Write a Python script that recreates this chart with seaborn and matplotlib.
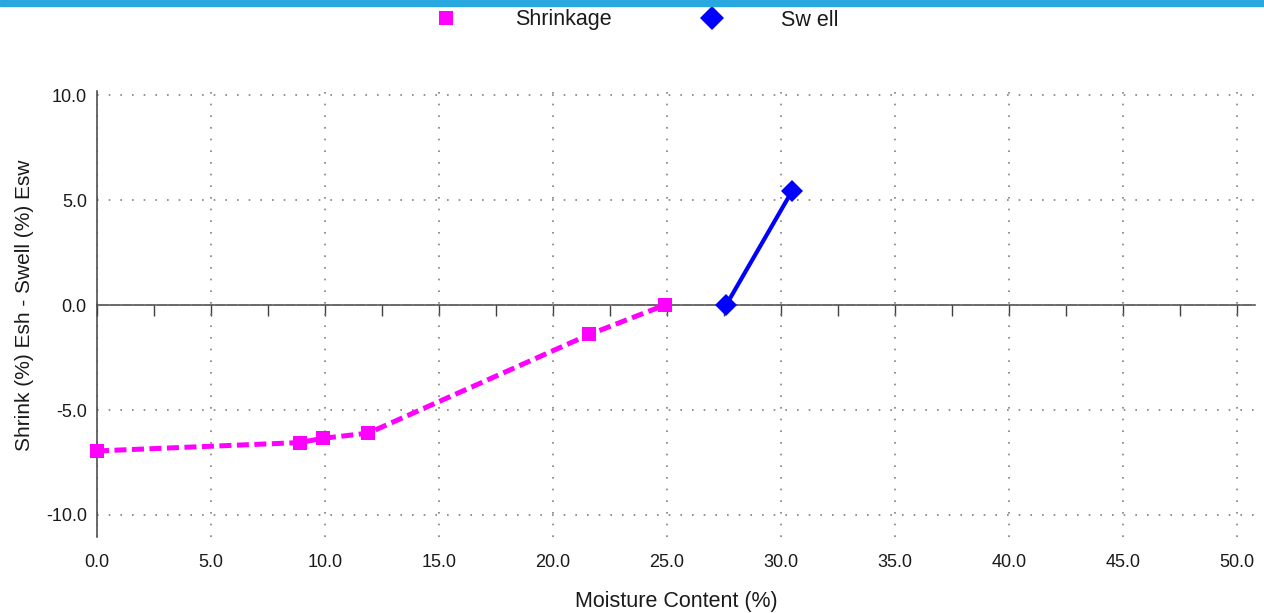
import numpy as np
import pandas as pd
import matplotlib.pyplot as plt
import seaborn as sns
from matplotlib.lines import Line2D
from matplotlib.patches import Rectangle

# === DATA ===
shrink_mc = [0.0, 8.9, 9.9, 11.9, 21.6, 24.9]
shrink_val = [-6.95, -6.55, -6.35, -6.1, -1.4, 0.0]
swell_mc = [27.6, 30.5]
swell_val = [0.0, 5.45]
series_names = ["Shrinkage", "Sw ell"]
x_ticks = [0.0, 5.0, 10.0, 15.0, 20.0, 25.0, 30.0, 35.0, 40.0, 45.0, 50.0]
y_ticks = [-10.0, -5.0, 0.0, 5.0, 10.0]

df = pd.concat([
    pd.DataFrame({"mc": shrink_mc, "val": shrink_val, "series": series_names[0]}),
    pd.DataFrame({"mc": swell_mc, "val": swell_val, "series": series_names[1]}),
], ignore_index=True)

palette = {"Shrinkage": "#ff00ff", "Sw ell": "#0000ff"}
marker_map = {"Shrinkage": "s", "Sw ell": "D"}
marker_size = {"Shrinkage": 10, "Sw ell": 11.5}

# === STYLE ===
sns.set_style("white")
plt.rcParams["font.family"] = ["Liberation Sans", "DejaVu Sans"]
txt_color = "#1a1a1a"
axis_color = "#404040"

fig = plt.figure(figsize=(12.64, 6.13), dpi=100)
ax = fig.add_axes([97 / 1264, 1 - 537 / 613, (1255 - 97) / 1264, (537 - 91) / 613])

xlo, xhi = 0.0, 50.8
ylo, yhi = -11.05, 10.2

# shrinkage: dashed magenta with squares
sub = df[df["series"] == "Shrinkage"]
sns.lineplot(data=sub, x="mc", y="val", ax=ax, color=palette["Shrinkage"],
             linewidth=3.6, marker="s", markersize=marker_size["Shrinkage"], markeredgewidth=0,
             legend=False, clip_on=False, zorder=5, sort=False)
ax.lines[-1].set_dashes((2.4, 1.1))

# swell: solid blue with diamonds
sub = df[df["series"] == "Sw ell"]
sns.lineplot(data=sub, x="mc", y="val", ax=ax, color=palette["Sw ell"],
             linewidth=3, marker="D", markersize=marker_size["Sw ell"], markeredgewidth=0,
             legend=False, clip_on=False, zorder=5, sort=False)

ax.set_xlim(xlo, xhi)
ax.set_ylim(ylo, yhi)

# grid
ax.set_xticks(x_ticks)
ax.set_yticks(y_ticks)
ax.set_xticklabels([f"{v:.1f}" for v in x_ticks])
ax.set_yticklabels([f"{v:.1f}" for v in y_ticks])
ax.set_yticks(np.arange(-10, 10.1, 2.5), minor=True)
ax.grid(True, which="major", color="#808080", linestyle=(0, (1, 6)), linewidth=1.2)

for s in ["top", "right", "bottom"]:
    ax.spines[s].set_visible(False)
ax.spines["left"].set_color(axis_color)
ax.spines["left"].set_linewidth(1.1)

ax.tick_params(axis="x", which="both", length=0, pad=12, labelsize=13, labelcolor=txt_color)
ax.tick_params(axis="y", which="major", direction="out", length=4, width=1,
               color=axis_color, pad=3.3, labelsize=13, labelcolor=txt_color)
ax.tick_params(axis="y", which="minor", direction="in", length=6, width=1, color=axis_color)

# zero line with ticks
frac = (0 - ylo) / (yhi - ylo)
sec = ax.secondary_xaxis(frac)
sec.set_alignment("bottom")
sec.set_xticks(np.arange(0, 50.1, 2.5))
sec.tick_params(axis="x", direction="out", length=8, width=1, color=axis_color, labelbottom=False)
sec.spines["bottom"].set_color(axis_color)
sec.spines["bottom"].set_linewidth(1.1)

ax.set_xlabel("Moisture Content (%)", fontsize=15.5, color=txt_color)
ax.xaxis.set_label_coords(0.5, -0.122)
ax.set_ylabel("Shrink (%) Esh - Swell (%) Esw", fontsize=15, color=txt_color)
ax.yaxis.set_label_coords(-0.054, 0.52)

# legend
handles = [Line2D([], [], linestyle="none", marker=marker_map[n], color=palette[n],
                  markersize=marker_size[n] + 0.5, markeredgewidth=0)
           for n in series_names]
fig.legend(handles, series_names, loc="center", bbox_to_anchor=(0.504, 1 - 20 / 613),
           ncol=2, frameon=False, fontsize=15.5, handlelength=1, handletextpad=2.7,
           columnspacing=4.15, labelcolor=txt_color, borderpad=0)

# top band
fig.patches.append(Rectangle((0, 1 - 6 / 613), 1, 6 / 613, transform=fig.transFigure,
                             color="#29a8e0", zorder=10))

fig.savefig("out.png", dpi=100)
